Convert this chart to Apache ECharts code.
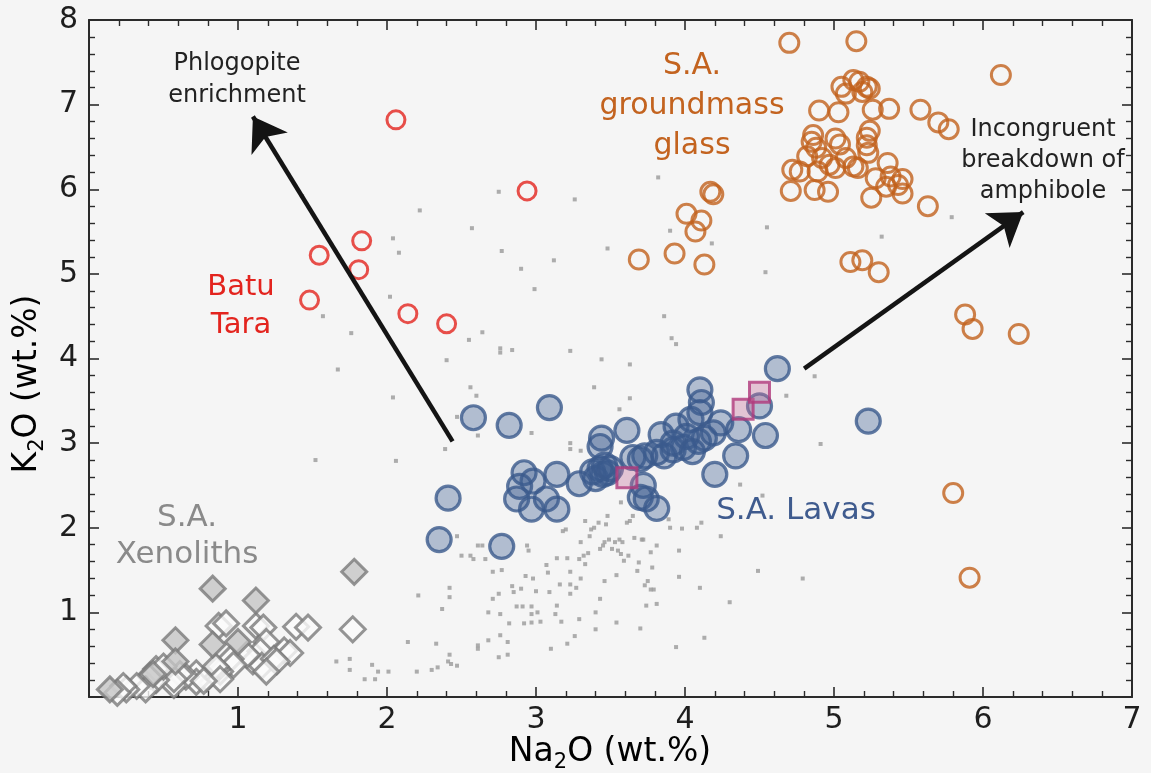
<!DOCTYPE html>
<html>
<head>
<meta charset="utf-8">
<script src="https://cdn.jsdelivr.net/npm/echarts@6/dist/echarts.min.js"></script>
<style>
  html, body { margin: 0; padding: 0; background: #f5f5f5; }
  #chart { width: 1151px; height: 773px; }
</style>
</head>
<body>
<div id="chart"></div>
<script>
// Axis ranges and tick labels (Na2O on x, K2O on y, wt.%)
const xTickValues = [0, 1, 2, 3, 4, 5, 6, 7];
const yTickValues = [0, 1, 2, 3, 4, 5, 6, 7, 8];
const xTickLabels = ['', '1', '2', '3', '4', '5', '6', '7'];
const yTickLabels = ['', '1', '2', '3', '4', '5', '6', '7', '8'];

// Batu Tara lavas [Na2O, K2O]
const batuTara = [
  [2.06, 6.82], [2.94, 5.98], [1.83, 5.39], [1.545, 5.22], [1.81, 5.05],
  [1.48, 4.69], [2.14, 4.53], [2.40, 4.41]
];

// S.A. groundmass glass
const glass = [
  [4.70, 7.73], [5.15, 7.75], [6.12, 7.35],
  [5.05, 7.21], [5.13, 7.29], [5.17, 7.27], [5.22, 7.21], [5.19, 7.15], [5.24, 7.19], [5.08, 7.13],
  [4.90, 6.93], [5.03, 6.91], [5.26, 6.94], [5.37, 6.95], [5.58, 6.94], [5.70, 6.79], [5.77, 6.71],
  [5.24, 6.69], [5.22, 6.61], [4.86, 6.64], [4.85, 6.56], [5.01, 6.60], [5.04, 6.53], [5.22, 6.52],
  [5.23, 6.43], [4.88, 6.49], [4.82, 6.39], [4.92, 6.37], [4.97, 6.29], [5.08, 6.37], [5.13, 6.27],
  [5.01, 6.25], [4.72, 6.23], [4.77, 6.21], [4.89, 6.21], [5.16, 6.25], [5.36, 6.31], [5.28, 6.13],
  [5.38, 6.15], [5.46, 6.12], [5.35, 6.03], [5.43, 6.05], [4.71, 5.98], [4.87, 5.99], [4.96, 5.97],
  [5.25, 5.90], [5.46, 5.95], [5.63, 5.80],
  [4.17, 5.97], [4.19, 5.94], [4.01, 5.71], [4.11, 5.63], [4.07, 5.50], [3.93, 5.24], [3.69, 5.17],
  [4.13, 5.11], [5.11, 5.14], [5.19, 5.16], [5.30, 5.02],
  [5.88, 4.52], [5.93, 4.35], [6.24, 4.29], [5.80, 2.41], [5.91, 1.41]
];

// S.A. lavas (whole rock)
const lavas = [
  [4.62, 3.88], [4.10, 3.63], [4.11, 3.48], [2.58, 3.30], [3.09, 3.42], [2.82, 3.21],
  [3.61, 3.15], [3.44, 3.06], [3.43, 2.96], [3.84, 3.10], [3.94, 3.20], [4.04, 3.28],
  [4.10, 3.36], [4.24, 3.24], [4.36, 3.16], [4.54, 3.09], [4.50, 3.44], [4.34, 2.85],
  [4.20, 2.63], [3.99, 2.95], [4.09, 3.02], [4.13, 3.06], [4.19, 3.12], [4.01, 3.08],
  [3.92, 2.92], [3.86, 2.85], [3.81, 2.89], [3.73, 2.85], [3.65, 2.83], [3.43, 2.70],
  [3.40, 2.58], [3.48, 2.65], [3.45, 2.63], [3.38, 2.66], [3.46, 2.74], [3.50, 2.70],
  [3.29, 2.52], [3.14, 2.63], [2.92, 2.65], [2.98, 2.55], [2.89, 2.49], [2.87, 2.34],
  [2.97, 2.22], [3.07, 2.34], [3.14, 2.22], [3.70, 2.81], [3.72, 2.50], [3.70, 2.36],
  [3.74, 2.34], [3.81, 2.23], [2.41, 2.35], [2.35, 1.86], [2.77, 1.78], [5.23, 3.26],
  [3.92, 3.00], [4.05, 2.90]
];

// Lava samples plotted as squares
const lavaSquares = [[3.61, 2.59], [4.39, 3.40], [4.50, 3.60]];

// S.A. xenoliths
const xenolithsFilled = [
  [1.78, 1.48], [0.83, 1.28], [1.12, 1.14], [0.58, 0.67], [0.83, 0.62], [1.00, 0.65],
  [0.58, 0.42], [0.14, 0.09], [0.43, 0.27]
];
const xenolithsOpen = [
  [1.77, 0.80], [1.39, 0.83], [1.47, 0.82], [0.87, 0.84], [0.92, 0.87], [1.12, 0.84],
  [1.17, 0.82], [1.31, 0.55], [1.35, 0.52], [1.19, 0.65], [1.15, 0.54], [1.10, 0.42],
  [1.16, 0.37], [1.24, 0.45], [1.06, 0.50], [0.95, 0.45], [0.97, 0.38], [0.88, 0.30],
  [0.86, 0.33], [0.79, 0.22], [0.72, 0.28], [0.72, 0.18], [0.65, 0.24], [0.61, 0.27],
  [0.57, 0.14], [0.57, 0.21], [0.45, 0.20], [0.45, 0.33], [0.41, 0.25], [0.50, 0.36],
  [0.38, 0.09], [0.32, 0.13], [0.25, 0.09], [0.23, 0.13], [0.19, 0.05], [0.85, 0.36],
  [0.88, 0.21], [0.77, 0.19], [1.26, 0.42], [1.19, 0.30]
];

// Regional arc lavas (background field)
const arcField = [
  [1.66, 0.42], [1.75, 0.45], [1.75, 0.32], [1.85, 0.21], [1.92, 0.21], [1.90, 0.38], [1.94, 0.30],
  [2.01, 0.30], [2.14, 0.65], [2.21, 1.20], [2.20, 0.30], [2.30, 0.32], [2.34, 0.35], [2.33, 0.63],
  [2.37, 1.04], [2.42, 1.29], [2.42, 1.18], [2.42, 0.50], [2.41, 0.42], [2.43, 0.39], [2.47, 0.37],
  [2.47, 1.90], [2.50, 1.67], [2.56, 1.67], [2.58, 1.63], [2.61, 1.79], [2.64, 1.79], [2.66, 1.63],
  [2.61, 0.61], [2.61, 0.57], [2.68, 1.00], [2.68, 0.67], [2.75, 0.47], [2.76, 0.98], [2.76, 0.73],
  [2.81, 0.65], [2.81, 0.50], [2.82, 0.87], [2.71, 1.48], [2.77, 1.50], [2.71, 1.16], [2.75, 1.22],
  [2.84, 1.31], [2.85, 1.24], [2.90, 1.28], [2.87, 1.07], [2.91, 1.07], [2.93, 1.43], [2.94, 1.79],
  [2.95, 1.73], [2.97, 1.07], [2.97, 0.98], [2.98, 1.40], [3.00, 1.25], [2.92, 0.87], [2.97, 0.88],
  [3.01, 1.00], [3.03, 0.89], [3.07, 1.56], [3.08, 1.47], [3.09, 1.24], [3.10, 0.57], [3.13, 0.98],
  [3.14, 1.64], [3.14, 1.08], [3.16, 1.33], [3.17, 0.89], [3.18, 1.96], [3.20, 1.98], [3.21, 1.64],
  [3.21, 0.63], [3.23, 1.33], [3.23, 1.48], [3.23, 1.22], [3.26, 0.72], [3.27, 1.29], [3.29, 0.92],
  [3.29, 1.63], [3.30, 1.40], [3.30, 1.83], [3.32, 1.67], [3.33, 1.57], [3.33, 2.08], [3.35, 1.70],
  [3.36, 1.90], [3.37, 1.98], [3.39, 2.00], [3.40, 1.00], [3.40, 0.80], [3.42, 2.06], [3.43, 1.16],
  [3.43, 1.75], [3.45, 1.79], [3.46, 1.83], [3.46, 1.37], [3.47, 2.04], [3.48, 2.14], [3.49, 1.86],
  [3.51, 1.75], [3.53, 1.83], [3.54, 0.88], [3.54, 1.44], [3.55, 1.73], [3.56, 1.86], [3.57, 2.30],
  [3.57, 1.69], [3.58, 1.83], [3.59, 1.61], [3.61, 2.06], [3.62, 1.67], [3.63, 2.08], [3.65, 2.14],
  [3.66, 1.88], [3.68, 1.49], [3.69, 1.59], [3.70, 0.81], [3.71, 1.86], [3.72, 1.86], [3.73, 1.32],
  [3.74, 1.08], [3.75, 1.37], [3.77, 1.27], [3.79, 1.27], [3.77, 1.71], [3.78, 1.53], [3.81, 1.79],
  [3.81, 1.10], [3.89, 2.10], [3.90, 2.00], [3.94, 0.59], [3.96, 1.73], [3.96, 1.42], [3.98, 1.99],
  [4.08, 2.00], [4.10, 1.29], [4.11, 2.06], [4.13, 0.70], [4.24, 1.90], [4.30, 1.12], [4.37, 2.51],
  [4.49, 1.49], [4.52, 2.38], [4.79, 1.40],
  [1.43, 5.92], [2.22, 5.75], [2.04, 5.42], [2.08, 5.25], [2.57, 5.54], [2.75, 5.97], [3.26, 5.88],
  [2.77, 5.27], [2.90, 5.06], [3.12, 5.16], [2.99, 4.82], [2.02, 4.73], [1.57, 4.50], [1.76, 4.30],
  [1.67, 3.87], [2.04, 3.54], [2.55, 4.22], [2.64, 4.31], [2.76, 4.12], [2.76, 4.07], [2.84, 4.10],
  [2.40, 3.98], [2.56, 3.66], [2.60, 3.56], [3.23, 4.09], [3.44, 3.99], [3.63, 3.93], [3.39, 3.66],
  [3.48, 5.30], [3.82, 6.14], [3.90, 5.51], [4.18, 5.36], [4.55, 5.55], [4.54, 5.02], [3.86, 4.50],
  [3.91, 4.24], [3.94, 4.17], [4.68, 3.56], [4.87, 3.79], [5.32, 5.44], [5.79, 5.67],
  [2.39, 2.93], [2.06, 2.79], [2.97, 3.12], [3.23, 3.00], [3.23, 2.93], [3.30, 2.91], [3.56, 3.40],
  [3.63, 3.53], [4.91, 2.99], [2.47, 3.31], [2.61, 3.09], [1.52, 2.80]
];

// Trend arrows: [start, tip]
const phlogopiteArrow = [[2.44, 3.02], [1.10, 6.86]];
const amphiboleArrow = [[4.80, 3.88], [6.27, 5.73]];

const FONT = 'DejaVu Sans';
const AXIS = '#2b2b2b';

const chart = echarts.init(document.getElementById('chart'), null, { renderer: 'canvas' });

function baseX(extra) {
  return Object.assign({
    type: 'value', min: xTickValues[0], max: xTickValues[xTickValues.length - 1], interval: 1,
    axisLine: { show: true, onZero: false, lineStyle: { color: AXIS, width: 2 } },
    axisTick: { show: true, inside: true, length: 10, lineStyle: { color: AXIS, width: 1.6 } },
    minorTick: { show: true, splitNumber: 5, length: 6, lineStyle: { color: AXIS, width: 1.4 } },
    splitLine: { show: false }, minorSplitLine: { show: false }
  }, extra);
}
function baseY(extra) {
  return Object.assign({
    type: 'value', min: yTickValues[0], max: yTickValues[yTickValues.length - 1], interval: 1,
    axisLine: { show: true, onZero: false, lineStyle: { color: AXIS, width: 2 } },
    axisTick: { show: true, inside: true, length: 10, lineStyle: { color: AXIS, width: 1.6 } },
    minorTick: { show: true, splitNumber: 5, length: 6, lineStyle: { color: AXIS, width: 1.4 } },
    splitLine: { show: false }, minorSplitLine: { show: false }
  }, extra);
}

const titleRich = {
  n: { fontFamily: FONT, fontSize: 33, lineHeight: 42, color: '#2a2a2a' },
  s: { fontFamily: FONT, fontSize: 21, lineHeight: 14, verticalAlign: 'bottom', color: '#2a2a2a' }
};

function groupLabel(x, y, text, size, lineHeight, color) {
  return {
    type: 'text', x: x, y: y, z: 100,
    style: {
      text: text, fill: color, font: size + 'px "' + FONT + '"',
      fontFamily: FONT, fontSize: size, lineHeight: lineHeight,
      align: 'center', verticalAlign: 'middle', textAlign: 'center', textVerticalAlign: 'middle'
    }
  };
}

const option = {
  backgroundColor: '#f5f5f5',
  animation: false,
  grid: { left: 89, right: 19, top: 20, bottom: 76, containLabel: false, outerBoundsMode: 'none' },
  xAxis: [
    baseX({
      position: 'bottom',
      axisLabel: {
        show: true, margin: 8, color: '#1e1e1e', fontFamily: FONT, fontSize: 30,
        formatter: v => xTickLabels[xTickValues.indexOf(v)] || ''
      }
    }),
    baseX({ position: 'top', axisLabel: { show: false } })
  ],
  yAxis: [
    baseY({
      position: 'left',
      axisLabel: {
        show: true, margin: 11, color: '#1e1e1e', fontFamily: FONT, fontSize: 30,
        formatter: v => yTickLabels[yTickValues.indexOf(v)] || ''
      }
    }),
    baseY({ position: 'right', axisLabel: { show: false } })
  ],
  graphic: [
    {
      type: 'text', x: 610, y: 752, z: 100,
      style: { text: '{n|Na}{s|2}{n|O (wt.%)}', rich: titleRich, align: 'center', verticalAlign: 'middle' }
    },
    {
      type: 'text', x: 27, y: 384, rotation: Math.PI / 2, z: 100,
      style: { text: '{n|K}{s|2}{n|O (wt.%)}', rich: titleRich, align: 'center', verticalAlign: 'middle' }
    },
    groupLabel(237, 80, 'Phlogopite\nenrichment', 24, 32, '#222222'),
    groupLabel(1043, 161, 'Incongruent\nbreakdown of\namphibole', 24, 31, '#222222'),
    groupLabel(692, 106, 'S.A.\ngroundmass\nglass', 30, 40, '#c3631f'),
    groupLabel(241, 306, 'Batu\nTara', 29, 38, '#e3241e'),
    groupLabel(187, 536, 'S.A.\nXenoliths', 31, 37, '#8a8a8a'),
    groupLabel(796, 511, 'S.A. Lavas', 31, 36, '#3f5b8e')
  ],
  series: [
    {
      name: 'Arc field', type: 'scatter', data: arcField, symbol: 'rect', symbolSize: 4,
      itemStyle: { color: '#9a9a9a' }, z: 1, silent: true
    },
    {
      name: 'Xenoliths (open)', type: 'scatter', data: xenolithsOpen, symbol: 'diamond', symbolSize: [25, 25],
      itemStyle: { color: '#fbfbfb', borderColor: '#7a7a7a', borderWidth: 3 }, z: 2
    },
    {
      name: 'Xenoliths (filled)', type: 'scatter', data: xenolithsFilled, symbol: 'diamond', symbolSize: [25, 25],
      itemStyle: { color: '#c6c6c6', borderColor: '#7a7a7a', borderWidth: 3 }, z: 3
    },
    {
      name: 'S.A. groundmass glass', type: 'scatter', data: glass, symbol: 'circle', symbolSize: 19,
      itemStyle: { color: 'rgba(0,0,0,0)', borderColor: '#c2611d', borderWidth: 3 }, z: 3
    },
    {
      name: 'Batu Tara', type: 'scatter', data: batuTara, symbol: 'circle', symbolSize: 18,
      itemStyle: { color: 'rgba(0,0,0,0)', borderColor: '#e3241e', borderWidth: 3 }, z: 3
    },
    {
      name: 'S.A. Lavas', type: 'scatter', data: lavas, symbol: 'circle', symbolSize: 24,
      itemStyle: { color: 'rgba(59,91,143,0.46)', borderColor: '#3b5a8c', borderWidth: 3.2 }, z: 4
    },
    {
      name: 'S.A. Lavas (squares)', type: 'scatter', data: lavaSquares, symbol: 'rect', symbolSize: 20,
      itemStyle: { color: 'rgba(196,110,155,0.45)', borderColor: '#b03a7c', borderWidth: 3 }, z: 5
    },
    {
      name: 'Trends', type: 'lines', coordinateSystem: 'cartesian2d', polyline: false, z: 6,
      symbol: ['none', 'arrow'], symbolSize: [26, 32],
      lineStyle: { color: '#141414', width: 4.5, opacity: 1 },
      data: [{ coords: phlogopiteArrow }, { coords: amphiboleArrow }]
    }
  ]
};

chart.setOption(option);
</script>
</body>
</html>
